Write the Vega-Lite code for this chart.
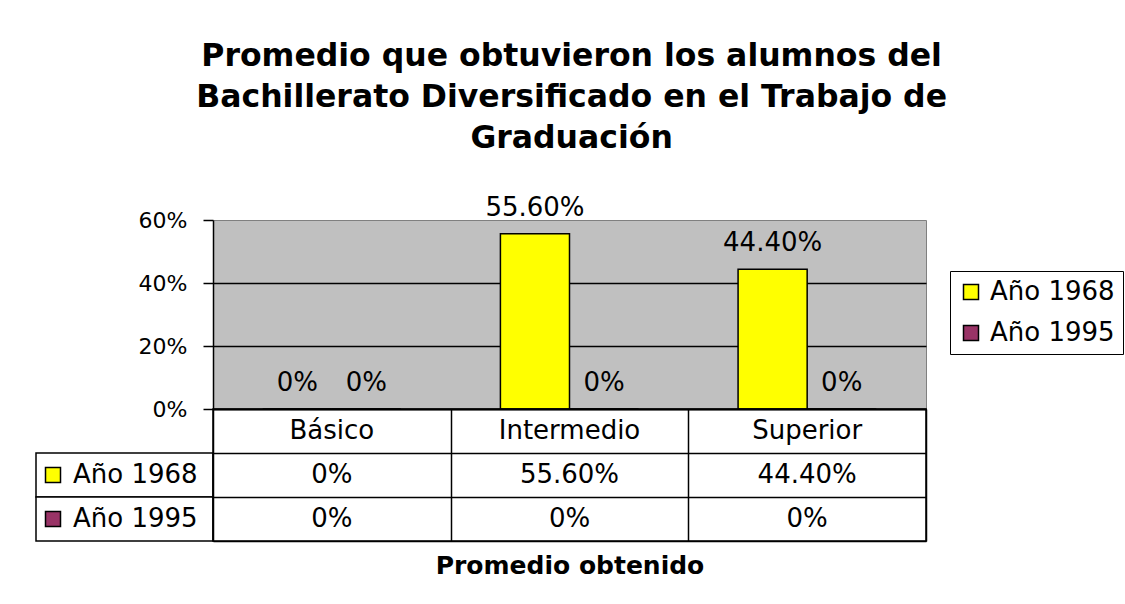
{
  "$schema": "https://vega.github.io/schema/vega-lite/v6.json",
  "background": "white",
  "padding": {"left": 35, "top": 40, "right": 5, "bottom": 5},
  "config": {"font": "DejaVu Sans", "view": {"stroke": null}},
  "title": {
    "text": ["Promedio que obtuvieron los alumnos del", "Bachillerato Diversificado en el Trabajo de", "Graduación"],
    "font": "DejaVu Sans", "fontSize": 31.5, "fontWeight": "bold", "lineHeight": 41,
    "color": "black", "anchor": "middle", "dx": -8, "offset": 40
  },
  "datasets": {
    "datos": [
      {"nivel": "Básico", "serie": "Año 1968", "valor": 0},
      {"nivel": "Básico", "serie": "Año 1995", "valor": 0},
      {"nivel": "Intermedio", "serie": "Año 1968", "valor": 0.556},
      {"nivel": "Intermedio", "serie": "Año 1995", "valor": 0},
      {"nivel": "Superior", "serie": "Año 1968", "valor": 0.444},
      {"nivel": "Superior", "serie": "Año 1995", "valor": 0}
    ]
  },
  "columns": 2,
  "spacing": 0,
  "bounds": "flush",
  "resolve": {
    "scale": {"x": "independent", "y": "independent", "color": "independent", "fill": "independent"},
    "legend": {"color": "independent", "fill": "independent"}
  },
  "concat": [
    {
      "width": 177, "height": 189,
      "data": {"values": []},
      "mark": "point"
    },
    {
      "width": 713, "height": 189,
      "data": {"name": "datos"},
      "transform": [{"calculate": "datum.valor === 0 ? '0%' : format(datum.valor, '.2%')", "as": "etiqueta"}],
      "view": {"fill": "#C0C0C0", "stroke": "#808080", "strokeWidth": 1},
      "encoding": {
        "x": {"field": "nivel", "type": "nominal", "sort": ["Básico", "Intermedio", "Superior"],
              "scale": {"paddingInner": 0, "paddingOuter": 0},
              "axis": {"labels": false, "ticks": false, "title": null, "domainColor": "black", "domainWidth": 1.5, "grid": false}},
        "xOffset": {"field": "serie", "type": "nominal", "sort": ["Año 1968", "Año 1995"],
                    "scale": {"paddingInner": 0, "paddingOuter": 0.72}},
        "y": {"field": "valor", "type": "quantitative",
              "scale": {"domain": [0, 0.6], "nice": false},
              "axis": {"values": [0, 0.2, 0.4, 0.6], "format": "%", "title": null,
                       "domainColor": "black", "domainWidth": 1.5,
                       "tickColor": "black", "tickWidth": 1.5, "tickSize": 10,
                       "labelFontSize": 22, "labelColor": "black", "labelPadding": 16, "labelFont": "DejaVu Sans",
                       "grid": true, "gridColor": "black", "gridWidth": 1.5,
                       "gridOpacity": {"condition": {"test": "datum.value > 0.5", "value": 0}, "value": 1}}}
      },
      "layer": [
        {
          "mark": {"type": "bar", "stroke": "black", "strokeWidth": 1.5},
          "encoding": {
            "color": {"field": "serie", "type": "nominal",
                      "scale": {"domain": ["Año 1968", "Año 1995"], "range": ["#FFFF00", "#993366"]},
                      "legend": {"orient": "none", "legendX": 737, "legendY": 51, "title": null,
                                 "strokeColor": "black", "padding": 8, "symbolType": "square", "symbolSize": 225,
                                 "symbolStrokeColor": "black", "symbolStrokeWidth": 1.5,
                                 "labelFontSize": 26, "labelOffset": 6, "rowPadding": 15,
                                 "labelColor": "black", "labelFont": "DejaVu Sans"}}
          }
        },
        {
          "mark": {"type": "text", "dy": -18, "baseline": "alphabetic", "fontSize": 26, "color": "black"},
          "encoding": {"text": {"field": "etiqueta"}}
        }
      ]
    },
    {
      "width": 177, "height": 132,
      "data": {"name": "datos"},
      "transform": [{"filter": "datum.nivel === 'Básico'"}],
      "encoding": {
        "y": {"field": "serie", "type": "nominal",
              "scale": {"domain": ["hdr", "Año 1968", "Año 1995"], "paddingInner": 0, "paddingOuter": 0},
              "axis": null}
      },
      "layer": [
        {"mark": {"type": "rect", "fill": "white", "stroke": "black", "strokeWidth": 1.5}},
        {
          "mark": {"type": "point", "shape": "square", "opacity": 0},
          "encoding": {
            "fill": {"field": "serie", "type": "nominal",
                     "scale": {"domain": ["Año 1968", "Año 1995"], "range": ["#FFFF00", "#993366"]},
                     "legend": {"orient": "none", "legendX": 4, "legendY": 53, "title": null, "padding": 0,
                                "symbolType": "square", "symbolSize": 225, "symbolOpacity": 1,
                                "symbolStrokeColor": "black", "symbolStrokeWidth": 1.5,
                                "labelFontSize": 26, "labelOffset": 7, "rowPadding": 18,
                                "labelColor": "black", "labelFont": "DejaVu Sans"}}
          }
        }
      ]
    },
    {
      "width": 713, "height": 132,
      "data": {"name": "datos"},
      "transform": [{"calculate": "datum.valor === 0 ? '0%' : format(datum.valor, '.2%')", "as": "etiqueta"}],
      "view": {"stroke": "black", "strokeWidth": 1.5},
      "encoding": {
        "x": {"field": "nivel", "type": "nominal", "sort": ["Básico", "Intermedio", "Superior"],
              "scale": {"paddingInner": 0, "paddingOuter": 0},
              "axis": {"orient": "bottom", "labels": false, "ticks": false, "domain": false,
                       "grid": true, "tickBand": "extent", "gridColor": "black", "gridWidth": 1.5,
                       "title": "Promedio obtenido", "titleFontSize": 25, "titleFontWeight": "bold",
                       "titleColor": "black", "titleFont": "DejaVu Sans", "titlePadding": 12}}
      },
      "layer": [
        {
          "mark": {"type": "text", "fontSize": 26, "color": "black"},
          "encoding": {
            "y": {"field": "serie", "type": "nominal",
                  "scale": {"domain": ["hdr", "Año 1968", "Año 1995"], "paddingInner": 0, "paddingOuter": 0},
                  "axis": {"labels": false, "ticks": false, "domain": false, "grid": true, "tickBand": "extent",
                           "gridColor": "black", "gridWidth": 1.5, "title": null}},
            "text": {"field": "etiqueta"}
          }
        },
        {
          "transform": [{"filter": "datum.serie === 'Año 1968'"}],
          "mark": {"type": "text", "fontSize": 26, "color": "black"},
          "encoding": {
            "y": {"datum": "hdr", "type": "nominal"},
            "text": {"field": "nivel"}
          }
        }
      ]
    }
  ]
}
